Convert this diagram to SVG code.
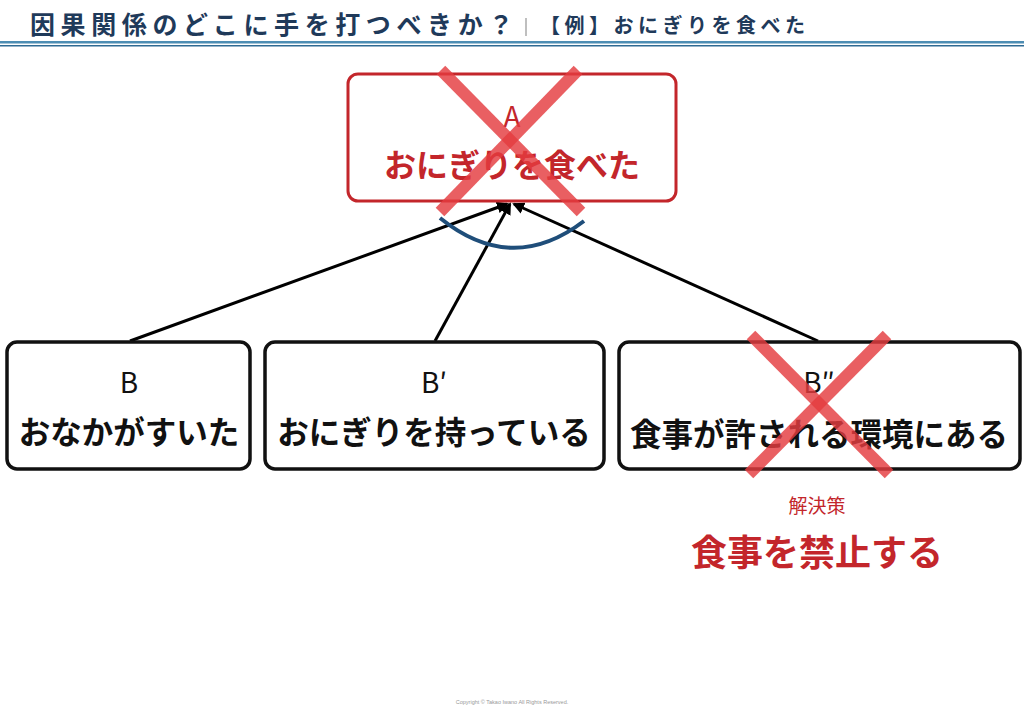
<svg xmlns="http://www.w3.org/2000/svg" width="1024" height="709" viewBox="0 0 1024 709">
<style>
text{font-family:"Noto Sans CJK JP","Noto Sans",sans-serif;}
.box{fill:#fff;stroke:#111;stroke-width:3.5;}
.boxA{fill:#fff;stroke:#c3262b;stroke-width:3;}
.lab{font-size:28px;text-anchor:middle;fill:#111;}
.main{font-size:31.5px;font-weight:bold;text-anchor:middle;fill:#111;}
.cross{stroke:#e43c40;stroke-opacity:0.82;stroke-width:12;}
.conn{stroke:#000;stroke-width:3;fill:none;marker-end:url(#ah);}
</style>
<defs>
<marker id="ah" markerWidth="12" markerHeight="12" refX="10" refY="6" orient="auto" markerUnits="userSpaceOnUse" viewBox="0 0 12 12">
<path d="M0,0 L12,6 L0,12 z" fill="#000"/>
</marker>
</defs>
<rect width="1024" height="709" fill="#fff"/>
<g id="header">
<text x="30" y="34" style="font-size:25px;font-weight:bold;fill:#1f3a5a;letter-spacing:5.6px">因果関係のどこに手を打つべきか？</text>
<line x1="526" y1="18" x2="526" y2="36" stroke="#aaa" stroke-width="1.5"/>
<text x="540" y="33" style="font-size:20px;font-weight:bold;fill:#1f3a5a;letter-spacing:4.5px">【例】おにぎりを食べた</text>
<rect x="0" y="41" width="1024" height="2.5" fill="#4d8db3"/>
<rect x="0" y="45" width="1024" height="1.5" fill="#2f6a93"/>
</g>
<g id="connectors">
<line class="conn" x1="130" y1="341" x2="507" y2="204"/>
<line class="conn" x1="435" y1="341" x2="510" y2="204"/>
<line class="conn" x1="818" y1="341" x2="514" y2="204"/>
<path d="M440,218 Q512,276 584,221" fill="none" stroke="#1f4e7a" stroke-width="4"/>
</g>
<g id="nodeA">
<rect class="boxA" x="348" y="74" width="328" height="127" rx="10"/>
<text x="512" y="127" style="font-size:28px;text-anchor:middle;fill:#c3262b">A</text>
<text x="512" y="177" style="font-size:32px;font-weight:bold;text-anchor:middle;fill:#c3262b">おにぎりを食べた</text>
<line class="cross" x1="441" y1="70" x2="581" y2="212"/>
<line class="cross" x1="578" y1="70" x2="440" y2="212"/>
</g>
<g id="nodeB">
<rect class="box" x="7" y="342" width="243" height="127" rx="10"/>
<text class="lab" x="129" y="393">B</text>
<text class="main" x="129" y="444">おなかがすいた</text>
</g>
<g id="nodeB1">
<rect class="box" x="265" y="342" width="339" height="127" rx="10"/>
<text class="lab" x="434" y="393">B′</text>
<text class="main" x="434" y="444">おにぎりを持っている</text>
</g>
<g id="nodeB2">
<rect class="box" x="619" y="342" width="401" height="127" rx="10"/>
<text class="lab" x="819" y="393">B″</text>
<text class="main" x="819" y="446">食事が許される環境にある</text>
<line class="cross" x1="751" y1="335" x2="889" y2="474"/>
<line class="cross" x1="887" y1="335" x2="749" y2="474"/>
</g>
<g id="solution">
<text x="817" y="513" style="font-size:19px;text-anchor:middle;fill:#c3262b">解決策</text>
<text x="817" y="566" style="font-size:36px;font-weight:bold;text-anchor:middle;fill:#c3262b">食事を禁止する</text>
</g>
<text x="512" y="704" style="font-size:5.5px;text-anchor:middle;fill:#999;font-family:'Liberation Sans',sans-serif">Copyright © Takao Iwano All Rights Reserved.</text>
</svg>
